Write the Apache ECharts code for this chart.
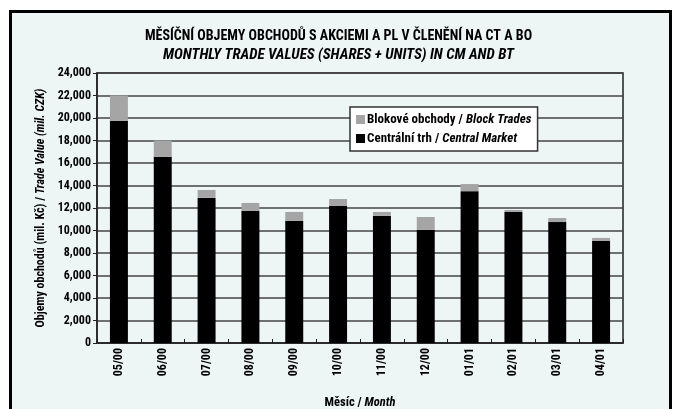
<!DOCTYPE html>
<html>
<head>
<meta charset="utf-8">
<script src="https://cdn.jsdelivr.net/npm/echarts@6/dist/echarts.min.js"></script>
<style>
html,body{margin:0;padding:0;background:#fff;}
#c{width:677px;height:409px;}
</style>
</head>
<body>
<div id="c"></div>
<script>
const categories = ['05/00','06/00','07/00','08/00','09/00','10/00','11/00','12/00','01/01','02/01','03/01','04/01'];
const centralMarket = [19750, 16550, 12900, 11750, 10850, 12180, 11300, 10050, 13500, 11650, 10750, 9070];
const blockTrades = [2250, 1450, 700, 700, 800, 620, 350, 1150, 630, 170, 360, 270];
const yTicks = [0, 2000, 4000, 6000, 8000, 10000, 12000, 14000, 16000, 18000, 20000, 22000, 24000];

const FONT = '"Roboto Condensed", "Open Sans Condensed", sans-serif';
const chart = echarts.init(document.getElementById('c'), null, {renderer: 'canvas'});
const fmt = v => v.toLocaleString('en-US');
const rich = size => ({
  n: {fontFamily: FONT, fontSize: size, fontWeight: 'bold', color: '#000'},
  i: {fontFamily: FONT, fontSize: size, fontWeight: 'bold', fontStyle: 'italic', color: '#000'}
});

chart.setOption({
  backgroundColor: '#eef6f5',
  animation: false,
  textStyle: {fontFamily: FONT, color: '#000'},
  graphic: [
    {type: 'rect', shape: {x: -5, y: -5, width: 700, height: 15}, style: {fill: '#fff'}, silent: true},
    {type: 'rect', shape: {x: -5, y: -5, width: 14, height: 430}, style: {fill: '#fff'}, silent: true},
    {type: 'rect', shape: {x: 672, y: -5, width: 20, height: 430}, style: {fill: '#fff'}, silent: true},
    {type: 'rect', shape: {x: 10.5, y: 11.5, width: 660, height: 410}, style: {fill: 'none', stroke: '#000', lineWidth: 3}, silent: true}
  ],
  title: {
    text: 'MĚSÍČNÍ OBJEMY OBCHODŮ S AKCIEMI A PL V ČLENĚNÍ NA CT A BO',
    subtext: 'MONTHLY TRADE VALUES (SHARES + UNITS) IN CM AND BT',
    left: 'center',
    top: 29,
    padding: 0,
    itemGap: 5,
    textStyle: {fontFamily: FONT, fontSize: 14, fontWeight: 'bold', color: '#000'},
    subtextStyle: {fontFamily: FONT, fontSize: 15, fontStyle: 'italic', fontWeight: 'bold', color: '#000'}
  },
  legend: {
    orient: 'vertical',
    left: 350,
    top: 107,
    padding: [6, 6, 6, 6],
    itemGap: 6,
    itemWidth: 9,
    itemHeight: 9,
    backgroundColor: '#fff',
    borderColor: '#333',
    borderWidth: 1.5,
    data: [
      {name: 'Blokové obchody', icon: 'rect'},
      {name: 'Centrální trh', icon: 'rect'}
    ],
    formatter: function (name) {
      return name === 'Blokové obchody' ? '{n|Blokové obchody / }{i|Block Trades}' : '{n|Centrální trh / }{i|Central Market}';
    },
    textStyle: {padding: [0, 0, 0, -3], rich: rich(13)}
  },
  grid: {left: 97, right: 54, top: 73, bottom: 66, outerBoundsMode: 'none', containLabel: false, show: true, borderColor: '#222', borderWidth: 1.5, backgroundColor: 'transparent'},
  xAxis: {
    type: 'category',
    data: categories,
    name: '{n|Měsíc / }{i|Month}',
    nameLocation: 'middle',
    nameGap: 53,
    nameTextStyle: {rich: rich(12.5)},
    axisLine: {lineStyle: {color: '#222', width: 1.5}},
    axisTick: {show: true, inside: true, length: 4, lineStyle: {color: '#222'}},
    axisLabel: {rotate: 90, fontSize: 12, fontWeight: 'bold', color: '#000', fontFamily: FONT, margin: 5}
  },
  yAxis: {
    type: 'value',
    min: 0,
    max: 24000,
    interval: 2000,
    name: '{n|Objemy obchodů (mil. Kč) / }{i|Trade Value (mil. CZK)}',
    nameLocation: 'middle',
    nameGap: 50,
    nameTextStyle: {rich: rich(12)},
    axisLine: {show: true, lineStyle: {color: '#222', width: 1.5}},
    axisTick: {show: true, length: 4, lineStyle: {color: '#222'}},
    axisLabel: {fontSize: 12, fontWeight: 'bold', color: '#000', fontFamily: FONT, margin: 6, formatter: v => fmt(v)},
    splitLine: {lineStyle: {color: '#444', width: 1.5}}
  },
  series: [
    {name: 'Centrální trh', type: 'bar', stack: 't', data: centralMarket, barWidth: '41%', itemStyle: {color: '#000'}},
    {name: 'Blokové obchody', type: 'bar', stack: 't', data: blockTrades, itemStyle: {color: '#a5a5a5'}}
  ]
});
</script>
</body>
</html>
